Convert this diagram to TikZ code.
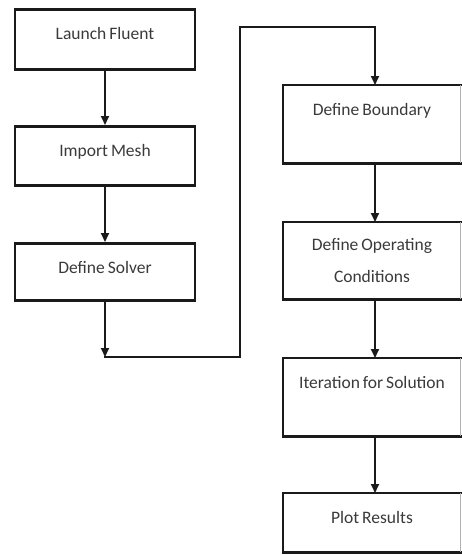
\documentclass[tikz,border=0pt]{standalone}
\usepackage{fontspec}
\setmainfont{Carlito}[WordSpace=0.75]
\usetikzlibrary{arrows.meta,calc}
\definecolor{ink}{HTML}{1A1A1A}
\definecolor{txt}{HTML}{3A3A3A}
\begin{document}
\begin{tikzpicture}[x=1pt,y=-1pt,
  every node/.style={font=\fontsize{17.5}{32}\selectfont, text=txt},
  lbox/.style={draw=ink, line width=2.5pt, inner sep=0pt, minimum width=180pt, anchor=north, text height=30pt},
  rbase/.style={draw=none, inner sep=0pt, minimum width=184pt, anchor=north},
  rbox/.style={rbase, text height=30pt},
  conn/.style={draw=ink, line width=2pt},
  arr/.style={conn, -{Triangle[length=9pt,width=8pt]}},
  edge3/.style={draw=ink, line width=2.5pt},
  thinedge/.style={draw=gray!60, line width=1pt}
]
\useasboundingbox (0,0) rectangle (462,555);
\begin{scope}
\clip (0,0) rectangle (462,555);
% left column
\node[lbox, text depth=30pt] (launch) at (105,8) {Launch Fluent};
\node[lbox, text depth=29pt] (import) at (105,125) {Import Mesh};
\node[lbox, text depth=27pt] (solver) at (105,242) {Define Solver};
% right column
\node[rbox, text depth=48pt] (bound) at (375,85) {\hspace*{-6pt}Define Boundary};
\node[rbase, minimum height=77pt, align=center] (oper) at (375,222) {\hspace*{-6pt}Define Operating\\\hspace*{-6pt}Conditions};
\node[rbox, text depth=48pt] (iter) at (375,358) {\hspace*{-6pt}Iteration for Solution};
\node[rbox, text depth=29pt] (plot) at (375,493) {\hspace*{-6pt}Plot Results};
\foreach \n in {bound,oper,iter,plot}{
  \draw[edge3] (\n.north east) -- (\n.north west) -- (\n.south west) -- (\n.south east);
  \draw[thinedge] ([xshift=-7pt]\n.north east) -- ([xshift=-7pt]\n.south east);
}
% connectors
\draw[arr] (launch.south) -- (import.north);
\draw[arr] (import.south) -- (solver.north);
\coordinate (c1) at (105,357);
\coordinate (c2) at (240,357);
\coordinate (c3) at (375,27);
\draw[arr] (solver.south) -- (c1);
\draw[conn, line cap=rect] (c1) -- (c2) |- (c3);
\draw[arr] (c3) -- (bound.north);
\draw[arr] (bound.south) -- (oper.north);
\draw[arr] (oper.south) -- (iter.north);
\draw[arr] (iter.south) -- (plot.north);
\end{scope}
\end{tikzpicture}
\end{document}
